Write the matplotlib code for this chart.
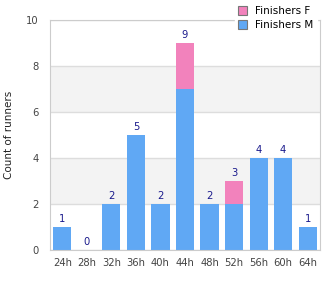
import matplotlib
matplotlib.use("Agg")
import matplotlib.pyplot as plt
import numpy as np

categories = ["24h", "28h", "32h", "36h", "40h", "44h", "48h", "52h", "56h", "60h", "64h"]
finishers_m = [1, 0, 2, 5, 2, 7, 2, 2, 4, 4, 1]
finishers_f = [0, 0, 0, 0, 0, 2, 0, 1, 0, 0, 0]

BLUE = "#60a8f4"
PINK = "#f282bc"

plt.rcParams.update({"font.family": "DejaVu Sans", "font.size": 7})

fig = plt.figure(figsize=(3.3, 3.0), dpi=100)
ax = fig.add_axes([50 / 330, 50 / 300, 270 / 330, 230 / 300])

x = np.arange(len(categories))
m = np.array(finishers_m)
f = np.array(finishers_f)
width = 0.74

# alternating bands
for lo in (2, 6):
    ax.axhspan(lo, lo + 2, color="#f3f3f3", zorder=0, lw=0)
for y in range(0, 11, 2):
    ax.axhline(y, color="#dddddd", lw=1, zorder=1)

ax.bar(x, m, width, color=BLUE, label="Finishers M", zorder=2)
ax.bar(x, f, width, bottom=m, color=PINK, label="Finishers F", zorder=2)

for xi, tot in zip(x, m + f):
    ax.annotate(str(tot), (xi, tot), textcoords="offset points", xytext=(0, 2.5),
                ha="center", va="bottom", fontsize=7.2, color="#1a1a8c")

ax.set_xlim(-0.5, len(categories) - 0.5)
ax.set_ylim(0, 10)
ax.set_yticks(range(0, 11, 2))
ax.set_xticks(x)
ax.set_xticklabels(categories)
ax.tick_params(length=0, colors="#444444", labelsize=7.2, pad=6)
ax.tick_params(axis="y", pad=8)
for s in ax.spines.values():
    s.set_color("#cccccc")
ax.set_ylabel("Count of runners", color="#222222", fontsize=7.5, labelpad=9)

handles, labels = ax.get_legend_handles_labels()
leg = fig.legend(handles[::-1], labels[::-1], loc="upper right",
                 bbox_to_anchor=(322 / 330, 302 / 300), frameon=True,
                 fontsize=7.5, handlelength=0.9, handleheight=0.9,
                 handletextpad=0.8, labelspacing=0.35, borderpad=0.3)
leg.get_frame().set_edgecolor("white")
leg.get_frame().set_alpha(1)
for h in leg.legend_handles:
    h.set_edgecolor("#777777")
    h.set_linewidth(0.8)

fig.savefig("out.png", dpi=100)
